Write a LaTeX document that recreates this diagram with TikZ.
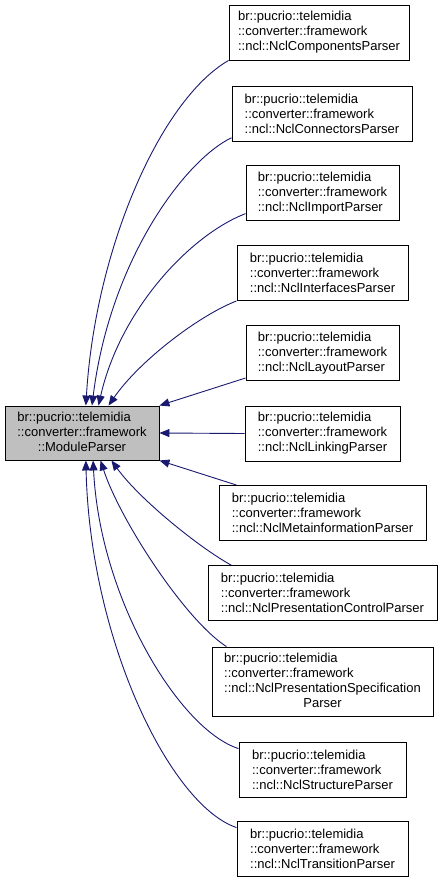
\documentclass[tikz,border=0pt]{standalone}
\usepackage{fontspec}
\setmainfont{Liberation Sans}
\usetikzlibrary{arrows.meta}
\definecolor{edgeblue}{HTML}{191970}
\definecolor{mainfill}{HTML}{BFBFBF}
\tikzset{
  cls/.style={draw=black, line width=0.9pt, fill=white, inner sep=0pt, align=left,
    minimum height=55pt, font=\fontsize{13}{15}\selectfont},
  mainbox/.style={cls, fill=mainfill},
  inh/.style={draw=edgeblue, line width=0.9pt, -{Triangle[length=10pt,width=8pt]}}
}
\begin{document}
\begin{tikzpicture}[x=1pt,y=-1pt]
\useasboundingbox (0,0) rectangle (443,881);
\node[mainbox, minimum width=154pt, minimum height=54pt] (main) at (82,433)
  {\begin{tabular}{@{}l@{}}br::pucrio::telemidia\\::converter::framework\\\multicolumn{1}{@{}c@{}}{::ModuleParser}\end{tabular}};
\node[cls, minimum width=180pt] (b1) at (319,32.5) {br::pucrio::telemidia\\::converter::framework\\::ncl::NclComponentsParser};
\node[cls, minimum width=180pt] (b2) at (322,113.5) {br::pucrio::telemidia\\::converter::framework\\::ncl::NclConnectorsParser};
\node[cls, minimum width=153pt] (b3) at (322.5,193) {br::pucrio::telemidia\\::converter::framework\\::ncl::NclImportParser};
\node[cls, minimum width=171pt] (b4) at (322.5,273) {br::pucrio::telemidia\\::converter::framework\\::ncl::NclInterfacesParser};
\node[cls, minimum width=153pt] (b5) at (322.5,353) {br::pucrio::telemidia\\::converter::framework\\::ncl::NclLayoutParser};
\node[cls, minimum width=155pt] (b6) at (322.5,433.5) {br::pucrio::telemidia\\::converter::framework\\::ncl::NclLinkingParser};
\node[cls, minimum width=207pt] (b7) at (322.5,513) {br::pucrio::telemidia\\::converter::framework\\::ncl::NclMetainformationParser};
\node[cls, minimum width=229pt] (b8) at (322.5,593) {br::pucrio::telemidia\\::converter::framework\\::ncl::NclPresentationControlParser};
\node[cls, minimum width=221pt, minimum height=69pt] (b9) at (322.5,681.5)
  {\begin{tabular}{@{}l@{}}br::pucrio::telemidia\\::converter::framework\\::ncl::NclPresentationSpecification\\\multicolumn{1}{@{}c@{}}{Parser}\end{tabular}};
\node[cls, minimum width=167pt] (b10) at (322.5,769.5) {br::pucrio::telemidia\\::converter::framework\\::ncl::NclStructureParser};
\node[cls, minimum width=171pt] (b11) at (322.5,849) {br::pucrio::telemidia\\::converter::framework\\::ncl::NclTransitionParser};

\draw[inh] (b1.south west) .. controls (160,100) and (95,250) .. (main.82);
\draw[inh] (b2.195) .. controls (185,160) and (110,260) .. (main.70);
\draw[inh] (b3.195) .. controls (190,235) and (120,310) .. (main.59);
\draw[inh] (b4.south west) .. controls (200,315) and (140,360) .. (main.46);
\draw[inh] (b5.198) -- (main.north east);
\draw[inh] (b6.west) -- (main.east);
\draw[inh] (b7.162) -- (main.south east);
\draw[inh] (b8.163) .. controls (200,548) and (140,500) .. (main.317);
\draw[inh] (b9.160) .. controls (185,620) and (120,520) .. (main.304);
\draw[inh] (b10.166) .. controls (180,730) and (100,600) .. (main.292);
\draw[inh] (b11.166) .. controls (170,805) and (90,640) .. (main.278);
\end{tikzpicture}
\end{document}
